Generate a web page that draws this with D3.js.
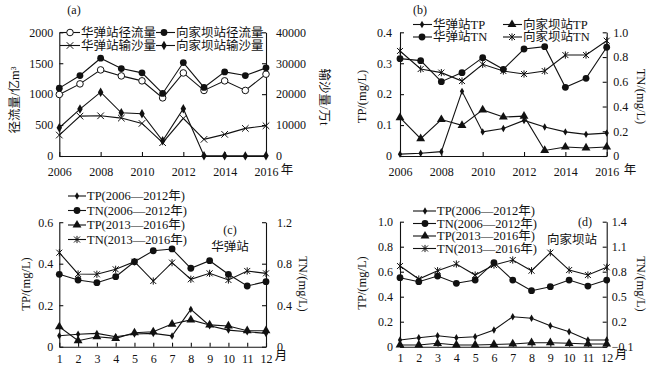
<!DOCTYPE html>
<html>
<head>
<meta charset="utf-8">
<script src="https://cdn.jsdelivr.net/npm/d3@7"></script>
<style>
  body { margin: 0; background: #fff; }
  text { font-family: "Liberation Serif", "Noto Sans CJK SC", serif; fill: #111; }
</style>
</head>
<body>
<script>
// 数据
const years = [2006, 2007, 2008, 2009, 2010, 2011, 2012, 2013, 2014, 2015, 2016];
const yearTicks = [2006, 2008, 2010, 2012, 2014, 2016];
const months = [1, 2, 3, 4, 5, 6, 7, 8, 9, 10, 11, 12];

// (a) 径流量 / 输沙量
const hdRunoff = [995, 1166, 1392, 1295, 1215, 940, 1343, 1060, 1215, 1060, 1323];
const xjbRunoff = [1097, 1301, 1581, 1414, 1344, 1011, 1511, 1108, 1360, 1301, 1425];
const hdSediment = [6770, 12900, 13000, 12260, 10540, 4300, 12150, 5380, 7000, 8930, 9780];
const xjbSediment = [9140, 15160, 20650, 13980, 13650, 4940, 15270, 60, 50, 40, 60];

// (b) TP / TN 年际
const hdTP = [0.006, 0.009, 0.014, 0.209, 0.078, 0.089, 0.115, 0.094, 0.078, 0.070, 0.074];
const xjbTP = [0.124, 0.056, 0.118, 0.099, 0.149, 0.126, 0.129, 0.018, 0.029, 0.026, 0.029];
const hdTN = [0.787, 0.771, 0.601, 0.674, 0.795, 0.701, 0.865, 0.884, 0.555, 0.628, 0.879];
const xjbTN = [0.849, 0.703, 0.674, 0.606, 0.741, 0.687, 0.663, 0.687, 0.816, 0.816, 0.932];

// (c) 华弹站 月变化
const cTP1 = [0.053, 0.060, 0.064, 0.048, 0.061, 0.064, 0.052, 0.180, 0.101, 0.080, 0.072, 0.064];
const cTN1 = [0.698, 0.643, 0.617, 0.675, 0.819, 0.925, 0.942, 0.756, 0.829, 0.698, 0.585, 0.627];
const cTP2 = [0.096, 0.029, 0.048, 0.040, 0.067, 0.072, 0.109, 0.129, 0.105, 0.100, 0.077, 0.077];
const cTN2 = [0.906, 0.701, 0.698, 0.746, 0.819, 0.633, 0.810, 0.650, 0.707, 0.643, 0.730, 0.707];

// (d) 向家坝站 月变化
const dTP1 = [0.054, 0.072, 0.088, 0.072, 0.080, 0.134, 0.240, 0.227, 0.168, 0.120, 0.054, 0.054];
const dTN1 = [0.728, 0.680, 0.748, 0.661, 0.700, 0.908, 0.700, 0.572, 0.620, 0.700, 0.628, 0.700];
const dTP2 = [0.014, 0.014, 0.027, 0.014, 0.014, 0.018, 0.022, 0.032, 0.032, 0.027, 0.022, 0.022];
const dTN2 = [0.868, 0.712, 0.812, 0.892, 0.760, 0.880, 0.940, 0.812, 1.028, 0.820, 0.760, 0.853];

// 刻度
const aLeftTicks = [0, 500, 1000, 1500, 2000];
const aRightTicks = [0, 10000, 20000, 30000, 40000];
const bLeftTicks = [0, 0.1, 0.2, 0.3, 0.4];
const bRightTicks = [0, 0.2, 0.4, 0.6, 0.8, 1.0];
const cLeftTicks = [0, 0.2, 0.4, 0.6];
const cRightTicks = [0, 0.4, 0.8, 1.2];
const dLeftTicks = [0, 0.2, 0.4, 0.6, 0.8, 1.0];
const dRightTicks = [-0.1, 0.2, 0.5, 0.8, 1.1, 1.4];

const svg = d3.select('body').append('svg')
  .attr('width', 663).attr('height', 370);

const fmt = d => d === 0 ? '0' : (d < 0 ? '\u2212' + d3.format('.1f')(-d) : d3.format('.1f')(d));

// marqueurs
function marker(g, type, x, y) {
  const m = g.append('g').attr('transform', `translate(${x},${y})`);
  if (type === 'ocircle') m.append('circle').attr('r', 3.3).attr('fill', '#fff').attr('stroke', '#111').attr('stroke-width', 1);
  else if (type === 'circle') m.append('circle').attr('r', 3.4).attr('fill', '#111');
  else if (type === 'tri') m.append('path').attr('d', d3.symbol(d3.symbolTriangle, 34)()).attr('fill', '#111');
  else if (type === 'dia') m.append('path').attr('d', d3.symbol(d3.symbolDiamond, 16)()).attr('fill', '#111');
  else if (type === 'star') m.append('path').attr('d', d3.symbol(d3.symbolDiamond, 26)()).attr('fill', '#111');
  else if (type === 'x') m.append('path').attr('d', 'M-3.3,-3.3L3.3,3.3M-3.3,3.3L3.3,-3.3').attr('stroke', '#111').attr('stroke-width', 1);
  else if (type === 'ast') m.append('path').attr('d', 'M-3,-3L3,3M-3,3L3,-3M0,-3.6V3.6').attr('stroke', '#111').attr('stroke-width', 1);
}

function series(g, xs, ys, x, y, type) {
  const pts = xs.map((d, i) => [x(d), y(ys[i])]);
  g.append('path').attr('d', d3.line()(pts))
    .attr('fill', 'none').attr('stroke', '#111').attr('stroke-width', 1.1);
  pts.forEach(p => marker(g, type, p[0], p[1]));
}

function legendItem(g, x0, x1, xm, y, type, label) {
  g.append('line').attr('x1', x0).attr('x2', x1).attr('y1', y).attr('y2', y)
    .attr('stroke', '#111').attr('stroke-width', 1.1);
  marker(g, type, xm, y);
  g.append('text').attr('x', x1 + 1).attr('y', y + 4.3).attr('font-size', 12.5).text(label);
}

function axes(g, x, yL, yR, xTicks, xFmt, lTicks, rTicks, lFmt, rFmt, xPad, lPad, rPad) {
  const [x0, x1] = x.range();
  const yb = yL.range()[0];
  const gx = g.append('g').attr('transform', `translate(0,${yb})`)
    .call(d3.axisBottom(x).tickValues(xTicks).tickFormat(xFmt).tickSize(-4).tickSizeOuter(0).tickPadding(xPad));
  const gl = g.append('g').attr('transform', `translate(${x0},0)`)
    .call(d3.axisLeft(yL).tickValues(lTicks).tickFormat(lFmt).tickSize(-4).tickSizeOuter(0).tickPadding(lPad));
  const gr = g.append('g').attr('transform', `translate(${x1},0)`)
    .call(d3.axisRight(yR).tickValues(rTicks).tickFormat(rFmt).tickSize(-4).tickSizeOuter(0).tickPadding(rPad));
  [gx, gl, gr].forEach(a => {
    a.selectAll('path,line').attr('stroke', '#111').attr('stroke-width', 1.1);
    a.selectAll('text').attr('font-size', 12).attr('font-family', '"Liberation Serif", serif').attr('fill', '#111');
  });
}

function label(txt, x, y, rot, size) {
  svg.append('text').attr('transform', `translate(${x},${y}) rotate(${rot})`)
    .attr('text-anchor', 'middle').attr('dominant-baseline', 'middle')
    .attr('font-size', size || 12.5).text(txt);
}

// ---------- (a) ----------
{
  const g = svg.append('g');
  const x = d3.scaleLinear().domain([2006, 2016]).range([59.3, 266]);
  const yL = d3.scaleLinear().domain([0, 2000]).range([156, 32.3]);
  const yR = d3.scaleLinear().domain([0, 40000]).range([156, 32.3]);
  axes(g, x, yL, yR, yearTicks, d3.format('d'), aLeftTicks, aRightTicks, d3.format('d'), d3.format('d'), 11.5, 6, 10);
  series(g, years, hdSediment, x, yR, 'x');
  series(g, years, xjbSediment, x, yR, 'star');
  series(g, years, hdRunoff, x, yL, 'ocircle');
  series(g, years, xjbRunoff, x, yL, 'circle');
  legendItem(g, 60, 80, 70, 32.5, 'ocircle', '华弹站径流量');
  legendItem(g, 156, 175, 164, 32.5, 'circle', '向家坝站径流量');
  legendItem(g, 60, 80, 70, 45.5, 'x', '华弹站输沙量');
  legendItem(g, 156, 175, 164, 45.5, 'star', '向家坝站输沙量');
  label('径流量/亿m\u00b3', 16, 100, -90);
  label('输沙量/万t', 323, 97, 90);
  label('年', 287, 171.5, 0);
  label('(a)', 74, 11.5, 0, 12);
}

// ---------- (b) ----------
{
  const g = svg.append('g');
  const x = d3.scaleLinear().domain([2006, 2016]).range([400, 606.7]);
  const yL = d3.scaleLinear().domain([0, 0.4]).range([156, 32.3]);
  const yR = d3.scaleLinear().domain([0, 1.0]).range([156, 32.3]);
  axes(g, x, yL, yR, yearTicks, d3.format('d'), bLeftTicks, bRightTicks, fmt, fmt, 11.5, 8, 6.5);
  series(g, years, hdTP, x, yL, 'dia');
  series(g, years, xjbTP, x, yL, 'tri');
  series(g, years, hdTN, x, yR, 'circle');
  series(g, years, xjbTN, x, yR, 'ast');
  legendItem(g, 413, 432, 422, 24.5, 'dia', '华弹站TP');
  legendItem(g, 503, 522, 512, 24.5, 'tri', '向家坝站TP');
  legendItem(g, 413, 432, 422, 37, 'circle', '华弹站TN');
  legendItem(g, 503, 522, 512, 37, 'ast', '向家坝站TN');
  label('TP/(mg/L)', 363, 96.5, -90);
  label('TN/(mg/L)', 640, 96.5, 90);
  label('年', 630, 171.5, 0);
  label('(b)', 420, 11.5, 0, 12);
}

// ---------- (c) ----------
{
  const g = svg.append('g');
  const x = d3.scaleLinear().domain([1, 12]).range([59.3, 266]);
  const yL = d3.scaleLinear().domain([0, 0.6]).range([346.7, 222.2]);
  const yR = d3.scaleLinear().domain([0, 1.2]).range([346.7, 222.2]);
  axes(g, x, yL, yR, months, d3.format('d'), cLeftTicks, cRightTicks, fmt, fmt, 7.3, 6, 11);
  series(g, months, cTP1, x, yL, 'dia');
  series(g, months, cTP2, x, yL, 'tri');
  series(g, months, cTN1, x, yR, 'circle');
  series(g, months, cTN2, x, yR, 'ast');
  legendItem(g, 68, 86, 77, 196, 'dia', 'TP(2006—2012年)');
  legendItem(g, 68, 86, 77, 210.5, 'circle', 'TN(2006—2012年)');
  legendItem(g, 68, 86, 77, 225, 'tri', 'TP(2013—2016年)');
  legendItem(g, 68, 86, 77, 239.5, 'ast', 'TN(2013—2016年)');
  label('TP/(mg/L)', 27, 284, -90);
  label('TN/(mg/L)', 302, 284, 90);
  label('月', 281, 357.5, 0);
  label('(c)', 230, 231.5, 0, 12);
  label('华弹站', 230, 248, 0);
}

// ---------- (d) ----------
{
  const g = svg.append('g');
  const x = d3.scaleLinear().domain([1, 12]).range([400, 606.7]);
  const yL = d3.scaleLinear().domain([0, 1.0]).range([346.7, 221.7]);
  const yR = d3.scaleLinear().domain([-0.1, 1.4]).range([346.7, 221.7]);
  axes(g, x, yL, yR, months, d3.format('d'), dLeftTicks, dRightTicks, fmt, fmt, 6.5, 7, 5);
  series(g, months, dTP1, x, yL, 'dia');
  series(g, months, dTP2, x, yL, 'tri');
  series(g, months, dTN1, x, yR, 'circle');
  series(g, months, dTN2, x, yR, 'ast');
  legendItem(g, 413, 436, 425, 211, 'dia', 'TP(2006—2012年)');
  legendItem(g, 413, 436, 425, 223.5, 'circle', 'TN(2006—2012年)');
  legendItem(g, 413, 436, 425, 236, 'tri', 'TP(2013—2016年)');
  legendItem(g, 413, 436, 425, 248.5, 'ast', 'TN(2013—2016年)');
  label('TP/(mg/L)', 363, 283, -90);
  label('TN/(mg/L)', 640, 284, 90);
  label('月', 621, 356.5, 0);
  label('(d)', 585, 223, 0, 12);
  label('向家坝站', 572, 241, 0);
}
</script>
</body>
</html>
